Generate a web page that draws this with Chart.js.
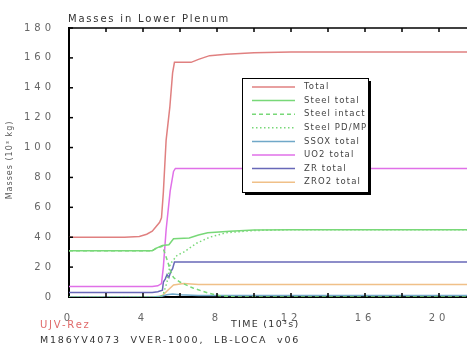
<!DOCTYPE html>
<html>
<head>
<meta charset="utf-8">
<script src="https://cdn.jsdelivr.net/npm/chart.js@4.4.1/dist/chart.umd.min.js"></script>
<style>
  html, body { margin: 0; padding: 0; background: #fff; overflow: hidden; }
  #wrap { width: 467px; height: 347px; overflow: hidden; }
</style>
</head>
<body>
<div id="wrap"><canvas id="massChart" width="490" height="347"></canvas></div>
<script>
// Masses in lower plenum (10^3 kg) over time (10^3 s)
const totalT = [0, 3, 3.8, 4.2, 4.5, 4.7, 4.9, 5.0, 5.1, 5.25, 5.45, 5.6, 5.7, 6.6, 7.0, 7.6, 8.5, 10, 12, 22];
const totalV = [40, 40, 40.5, 42, 44, 47, 50, 53, 70, 105, 127, 150, 157, 157, 159, 161.5, 162.5, 163.5, 164, 164];

const steelTotalT = [0, 4.5, 4.7, 5.05, 5.4, 5.65, 6.5, 7.0, 7.5, 8.7, 10, 12, 22];
const steelTotalV = [31, 31, 32.5, 34.5, 35, 39, 39.5, 41.5, 43, 44, 44.8, 45, 45];

const steelIntactT = [0, 4.5, 4.7, 5.05, 5.3, 5.5, 5.65, 6.0, 6.7, 7.5, 8.1, 9, 22];
const steelIntactV = [31, 31, 32.5, 34, 25, 17, 13, 10, 6, 2.7, 1, 0, 0];

const steelPdT = [0, 4.9, 5.1, 5.3, 5.47, 5.85, 6.2, 6.9, 7.6, 8.5, 10, 12, 22];
const steelPdV = [0, 0, 2, 10, 22, 28, 30, 36, 40, 43, 44.5, 45, 45];

const ssoxT = [0, 4.5, 5.0, 5.3, 5.6, 6.0, 7, 22];
const ssoxV = [0, 0, 0.5, 1.5, 2, 1.5, 1, 1];

const uo2T = [0, 4.5, 4.8, 5.0, 5.1, 5.25, 5.47, 5.65, 5.75, 22];
const uo2V = [7, 7, 7.5, 9, 20, 45, 71, 84, 86, 86];

const zrT = [0, 4.5, 4.8, 5.05, 5.1, 5.2, 5.3, 5.4, 5.5, 5.6, 5.7, 22];
const zrV = [3, 3, 3.5, 4.5, 10, 12, 15, 13, 17, 19, 23.4, 23.4];

const zro2T = [0, 4.8, 5.05, 5.3, 5.65, 6.2, 7, 22];
const zro2V = [0, 0, 1, 4, 8, 9, 8.3, 8.3];

const xTicks = [0, 4, 8, 12, 16, 20];
const yTicks = [0, 20, 40, 60, 80, 100, 120, 140, 160, 180];

const pts = (t, v) => t.map((x, i) => ({ x: x, y: v[i] }));

const line = (label, t, v, color, dash) => ({
    label: label,
    data: pts(t, v),
    borderColor: color,
    backgroundColor: color,
    borderWidth: 1.5,
    borderDash: dash || [],
    pointRadius: 0,
    tension: 0,
    fill: false
});

// letter spacing for the plotter-style labels
const spacing = {
    id: 'spacing',
    beforeDraw(chart) { chart.ctx.letterSpacing = '4px'; },
    beforeDatasetsDraw(chart) { chart.ctx.letterSpacing = '0px'; }
};

function txt(ctx, s, x, y, font, color, ls, align) {
    ctx.save();
    ctx.font = font;
    ctx.fillStyle = color;
    ctx.letterSpacing = ls;
    ctx.textAlign = align || 'left';
    ctx.textBaseline = 'middle';
    ctx.fillText(s, x, y);
    ctx.restore();
}

// frame, inward ticks, legend box and texts
const frame = {
    id: 'frame',
    afterDraw(chart) {
        const ctx = chart.ctx;
        const a = chart.chartArea;
        const xs = chart.scales.x, ys = chart.scales.y;
        ctx.save();
        ctx.strokeStyle = '#000';
        ctx.lineWidth = 1.5;
        ctx.beginPath();
        ctx.moveTo(a.left, a.top);
        ctx.lineTo(a.right, a.top);
        ctx.stroke();
        xs.ticks.forEach(tk => {
            if (tk.value <= 0 || tk.value >= 22) return;
            const px = xs.getPixelForValue(tk.value);
            ctx.beginPath();
            ctx.moveTo(px, a.bottom); ctx.lineTo(px, a.bottom - 4);
            ctx.moveTo(px, a.top); ctx.lineTo(px, a.top + 4);
            ctx.stroke();
        });
        ys.ticks.forEach(tk => {
            if (tk.value <= 0) return;
            const py = ys.getPixelForValue(tk.value);
            ctx.beginPath();
            ctx.moveTo(a.left, py); ctx.lineTo(a.left + 4, py);
            ctx.stroke();
        });

        // legend
        const bx = 242, by = 78, bw = 126, bh = 114;
        ctx.fillStyle = '#000';
        ctx.fillRect(bx + 3, by + 3, bw, bh);
        ctx.fillStyle = '#fff';
        ctx.fillRect(bx, by, bw, bh);
        ctx.lineWidth = 1;
        ctx.strokeRect(bx + 0.5, by + 0.5, bw, bh);
        chart.data.datasets.forEach((ds, i) => {
            const y = 87 + i * 13.6;
            ctx.strokeStyle = ds.borderColor;
            ctx.lineWidth = 1.5;
            ctx.setLineDash(ds.borderDash);
            ctx.beginPath();
            ctx.moveTo(252, y); ctx.lineTo(295, y);
            ctx.stroke();
            ctx.setLineDash([]);
            txt(ctx, ds.label, 304, y, '8.5px "DejaVu Sans"', '#444', '1.1px');
        });
        ctx.restore();

        txt(ctx, 'Masses in Lower Plenum', 68, 19, '10px "DejaVu Sans"', '#333', '1.8px');
        txt(ctx, 'TIME (10³s)', 231, 325, '9.5px "DejaVu Sans"', '#333', '1.3px');
        txt(ctx, 'UJV-Rez', 40, 325, '10px "DejaVu Sans"', '#e06a6a', '1.8px');
        txt(ctx, 'M186YV4073  VVER-1000,  LB-LOCA  v06', 40, 341, '9.5px "DejaVu Sans"', '#333', '1.8px');

        ctx.save();
        ctx.translate(10, 160);
        ctx.rotate(-Math.PI / 2);
        txt(ctx, 'Masses (10³ kg)', 0, 0, '8px "DejaVu Sans"', '#555', '1px', 'center');
        ctx.restore();
    }
};

const ctx = document.getElementById('massChart').getContext('2d');
const massChart = new Chart(ctx, {
    type: 'line',
    data: {
        datasets: [
            line('Total', totalT, totalV, '#e08080'),
            line('Steel total', steelTotalT, steelTotalV, '#78d878'),
            line('Steel intact', steelIntactT, steelIntactV, '#78d878', [4, 3]),
            line('Steel PD/MP', steelPdT, steelPdV, '#78d878', [1.5, 2.5]),
            line('SSOX total', ssoxT, ssoxV, '#70a8c8'),
            line('UO2 total', uo2T, uo2V, '#e070e8'),
            line('ZR total', zrT, zrV, '#6868b8'),
            line('ZRO2 total', zro2T, zro2V, '#f0c088')
        ]
    },
    options: {
        responsive: false,
        animation: false,
        layout: { padding: { left: 0, top: 28, right: 14, bottom: 0 } },
        plugins: {
            legend: { display: false },
            title: { display: false },
            tooltip: { enabled: false }
        },
        scales: {
            x: {
                type: 'linear',
                min: 0,
                max: 22,
                afterFit: s => { s.height = 50; },
                afterBuildTicks: s => { s.ticks = Array.from({ length: 12 }, (_, i) => ({ value: i * 2 })); },
                grid: { display: false },
                border: { display: true, color: '#000', width: 2 },
                ticks: {
                    autoSkip: false,
                    maxRotation: 0,
                    padding: 7,
                    color: '#666',
                    font: { family: 'DejaVu Sans', size: 10 },
                    callback: v => xTicks.includes(v) ? String(v) : ''
                }
            },
            y: {
                min: 0,
                max: 180,
                afterFit: s => { s.width = 69; },
                afterBuildTicks: s => { s.ticks = yTicks.map(v => ({ value: v })); },
                grid: { display: false },
                border: { display: true, color: '#000', width: 2 },
                ticks: {
                    padding: 6,
                    color: '#666',
                    font: { family: 'DejaVu Sans', size: 10 }
                }
            }
        }
    },
    plugins: [spacing, frame]
});
</script>
</body>
</html>
